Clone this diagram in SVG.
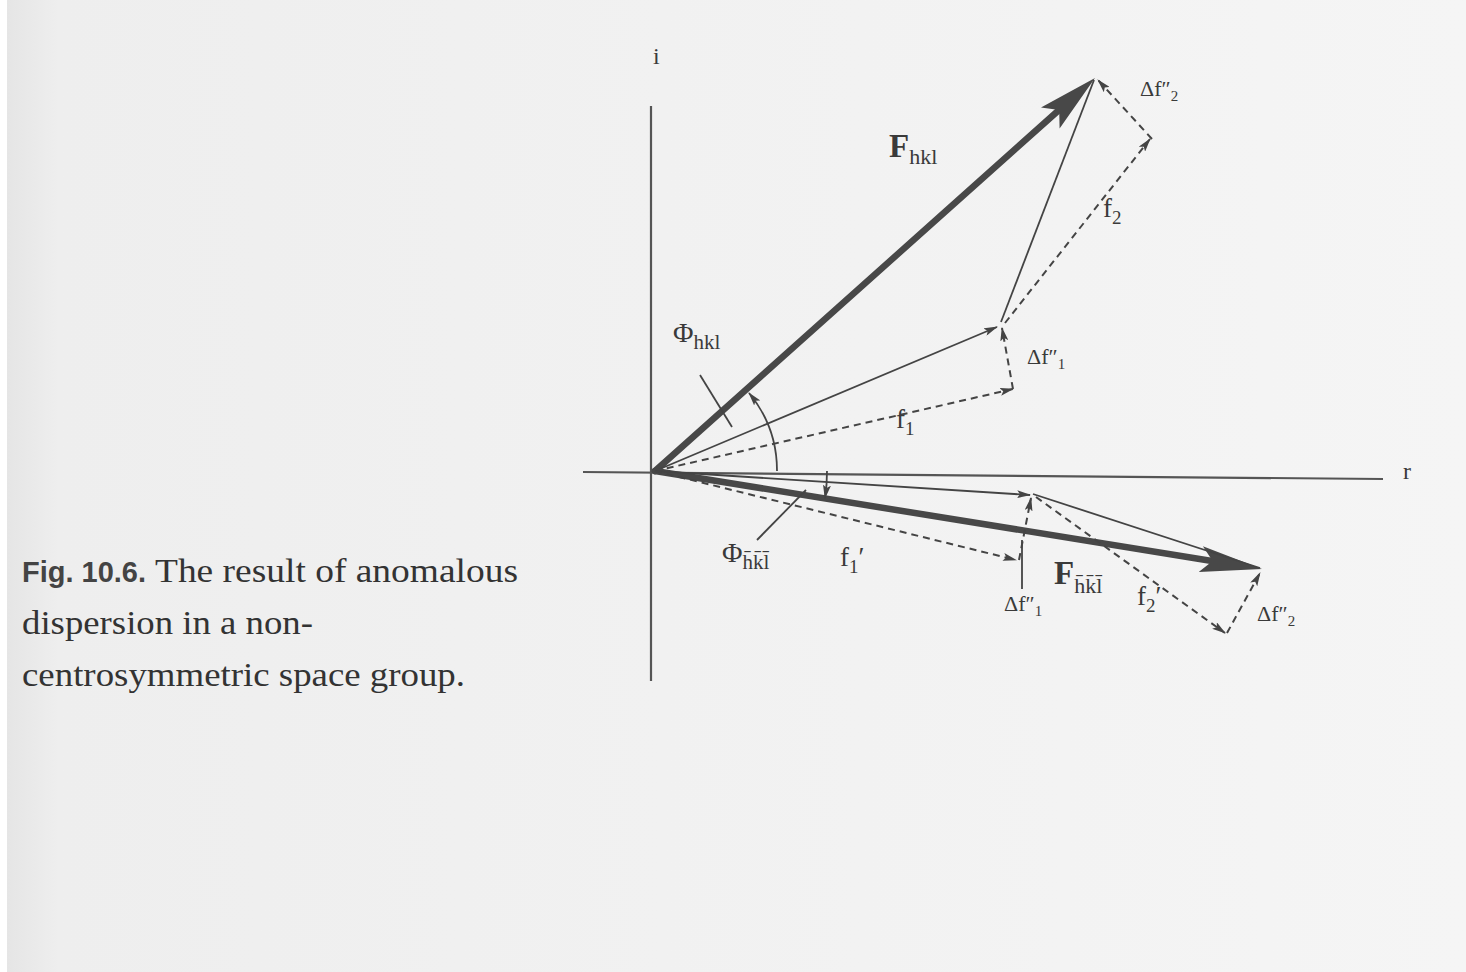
<svg xmlns="http://www.w3.org/2000/svg" width="1466" height="972" viewBox="0 0 1466 972">
  <defs>
    <linearGradient id="page" x1="0" y1="0" x2="1" y2="0">
      <stop offset="0" stop-color="#e4e4e4"/>
      <stop offset="0.04" stop-color="#eeeeee"/>
      <stop offset="1" stop-color="#f5f5f5"/>
    </linearGradient>
    <marker id="ah" viewBox="0 0 14 8" markerWidth="14" markerHeight="8" refX="13" refY="4" orient="auto" markerUnits="userSpaceOnUse">
      <path d="M0,0 L14,4 L0,8 L3,4 z" fill="#444"/>
    </marker>
    <style>
      .ax { stroke: #555; stroke-width: 2.2; fill: none; }
      .thin { stroke: #444; stroke-width: 1.8; fill: none; }
      .dash { stroke: #444; stroke-width: 2; fill: none; stroke-dasharray: 7 5; }
      .thick { stroke: #484848; stroke-width: 6.5; fill: none; stroke-linecap: round; }
      .head { fill: #484848; }
      .lbl { font-family: "Liberation Serif", "DejaVu Serif", serif; fill: #3a3a3a; }
      .cap { font-family: "Liberation Serif", "DejaVu Serif", serif; fill: #333; font-size: 34px; }
      .capb { font-family: "Liberation Sans", "DejaVu Sans", sans-serif; fill: #444; font-weight: bold; font-size: 30px; }
    </style>
  </defs>

  <rect x="0" y="0" width="1466" height="972" fill="url(#page)"/>
  <rect x="0" y="0" width="7" height="972" fill="#ffffff"/>

  <g id="axes">
    <line class="ax" x1="651" y1="106" x2="651" y2="681"/>
    <line class="ax" x1="583" y1="472" x2="1383" y2="479"/>
    <text class="lbl" x="653" y="64" font-size="24">i</text>
    <text class="lbl" x="1403" y="479" font-size="24">r</text>
  </g>

  <g id="connectors">
    <!-- upper: F_hkl -->
    <line class="thick" x1="655" y1="471" x2="1059" y2="110"/>
    <polygon class="head" points="1095,78 1059.6,128.4 1059.2,110 1041,107.6"/>
    <line class="thin" x1="655" y1="471" x2="997" y2="327" marker-end="url(#ah)"/>
    <line class="thin" x1="1001" y1="322" x2="1094" y2="80"/>
    <line class="dash" x1="655" y1="471" x2="1013" y2="389" marker-end="url(#ah)"/>
    <line class="dash" x1="1013" y1="389" x2="1002" y2="328" marker-end="url(#ah)"/>
    <line class="dash" x1="1005" y1="323" x2="1150" y2="139" marker-end="url(#ah)"/>
    <line class="dash" x1="1152" y1="139" x2="1098" y2="80" marker-end="url(#ah)"/>
    <!-- upper phase angle -->
    <path class="thin" d="M777,471 A122,122 0 0 0 749,393" marker-end="url(#ah)"/>
    <line class="thin" x1="700" y1="375" x2="732" y2="427"/>

    <!-- lower: F_-h-k-l -->
    <line class="thick" x1="655" y1="471" x2="1212" y2="561"/>
    <polygon class="head" points="1262,569 1198.7,571.9 1212.6,561 1202.9,546.3"/>
    <line class="thin" x1="655" y1="471" x2="1030" y2="495" marker-end="url(#ah)"/>
    <line class="thin" x1="1033" y1="494" x2="1260" y2="568"/>
    <line class="dash" x1="655" y1="471" x2="1016" y2="560" marker-end="url(#ah)"/>
    <line class="dash" x1="1019" y1="560" x2="1031" y2="498" marker-end="url(#ah)"/>
    <line class="thin" x1="1022" y1="540" x2="1022" y2="589"/>
    <line class="dash" x1="1036" y1="497" x2="1225" y2="633" marker-end="url(#ah)"/>
    <line class="dash" x1="1227" y1="633" x2="1260" y2="573" marker-end="url(#ah)"/>
    <!-- lower phase angle -->
    <path class="thin" d="M827,471 A172,172 0 0 1 825,498" marker-end="url(#ah)"/>
    <line class="thin" x1="757" y1="540" x2="806" y2="490"/>
  </g>

  <g id="labels-upper">
    <text class="lbl" x="889" y="157" font-size="33" font-weight="bold">F<tspan font-size="22" font-weight="normal" dy="7">hkl</tspan></text>
    <text class="lbl" x="673" y="342" font-size="28">Φ<tspan font-size="21" dy="7">hkl</tspan></text>
    <text class="lbl" x="896" y="428" font-size="27">f<tspan font-size="19" dy="7">1</tspan></text>
    <text class="lbl" x="1103" y="217" font-size="27">f<tspan font-size="19" dy="7">2</tspan></text>
    <text class="lbl" x="1027" y="364" font-size="22">Δf″<tspan font-size="15" dy="5">1</tspan></text>
    <text class="lbl" x="1140" y="96" font-size="22">Δf″<tspan font-size="15" dy="5">2</tspan></text>
  </g>

  <g id="labels-lower">
    <text class="lbl" x="722" y="562" font-size="28">Φ<tspan font-size="21" dy="7">h̄k̄l̄</tspan></text>
    <text class="lbl" x="840" y="566" font-size="27">f<tspan font-size="19" dy="7">1</tspan><tspan dy="-7">′</tspan></text>
    <text class="lbl" x="1004" y="611" font-size="22">Δf″<tspan font-size="15" dy="5">1</tspan></text>
    <text class="lbl" x="1054" y="584" font-size="33" font-weight="bold">F<tspan font-size="22" font-weight="normal" dy="9">h̄k̄l̄</tspan></text>
    <text class="lbl" x="1137" y="605" font-size="27">f<tspan font-size="19" dy="7">2</tspan><tspan dy="-7">′</tspan></text>
    <text class="lbl" x="1257" y="621" font-size="22">Δf″<tspan font-size="15" dy="5">2</tspan></text>
  </g>

  <g id="caption">
    <text class="capb" x="22" y="582" textLength="124" lengthAdjust="spacingAndGlyphs">Fig. 10.6.</text>
    <text class="cap" x="155" y="582" textLength="363" lengthAdjust="spacingAndGlyphs">The result of anomalous</text>
    <text class="cap" x="22" y="634" textLength="291" lengthAdjust="spacingAndGlyphs">dispersion in a non-</text>
    <text class="cap" x="22" y="686" textLength="443" lengthAdjust="spacingAndGlyphs">centrosymmetric space group.</text>
  </g>
</svg>
